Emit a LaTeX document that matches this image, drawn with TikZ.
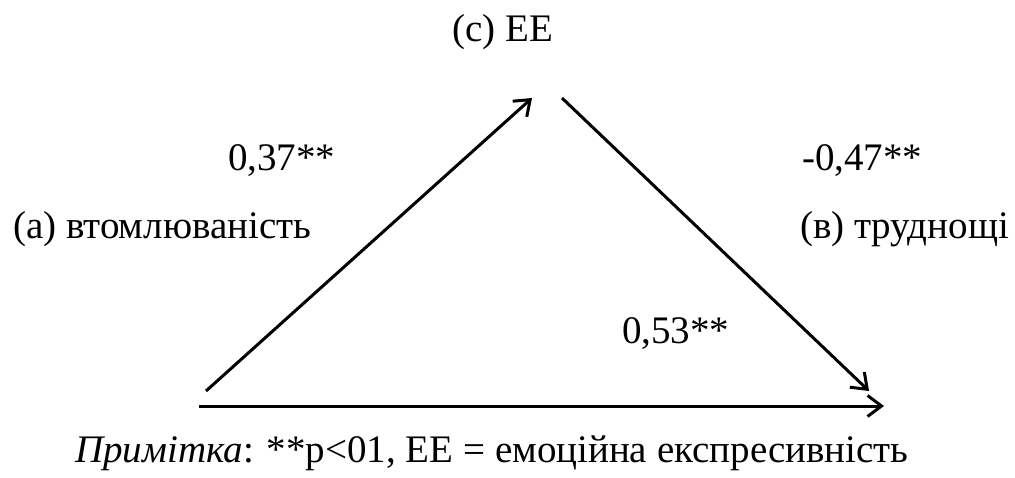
\documentclass[tikz,border=0pt]{standalone}
\usepackage{fontspec}
\setmainfont{Liberation Serif}
\usetikzlibrary{arrows.meta}
\begin{document}
\begin{tikzpicture}[x=1pt,y=-1pt,
  lbl/.style={inner sep=0pt,anchor=base west,font=\fontsize{39}{44}\selectfont},
  conn/.style={line width=3pt,-{Straight Barb[length=14pt,width=21pt,line width=3pt]}}]
\useasboundingbox (0,0) rectangle (1015,477);
\node[lbl] (c) at (452,41) {(с) ЕЕ};
\node[lbl] (a) at (13,238) {(а) втомлюваність};
\node[lbl] (b) at (800,238) {(в) труднощі};
\node[lbl] (r1) at (228,170) {0,37**};
\node[lbl] (r2) at (802,170) {-0,47**};
\node[lbl] (r3) at (622,343) {0,53**};
\node[lbl] (note) at (75,462) {\textit{Примітка}: **p<01, ЕЕ = емоційна експресивність};
\coordinate (a1) at (206,391);
\coordinate (c1) at (532,98);
\coordinate (c2) at (562,98);
\coordinate (b1) at (869,391);
\coordinate (a2) at (199,406);
\coordinate (b2) at (884,406);
\draw[conn] (a1) -- (c1);
\draw[conn] (c2) -- (b1);
\draw[conn] (a2) -- (b2);
\end{tikzpicture}
\end{document}
